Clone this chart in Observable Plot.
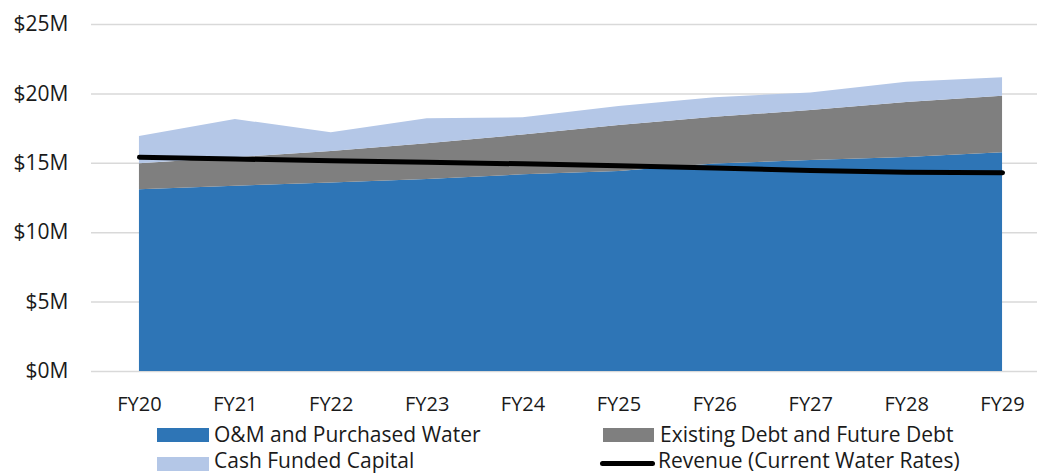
<!DOCTYPE html>
<html>
<head>
<meta charset="utf-8">
<script src="https://cdn.jsdelivr.net/npm/d3@7"></script>
<script src="https://cdn.jsdelivr.net/npm/@observablehq/plot@0.6"></script>
<style>
  body { margin: 0; background: #fff; }
  #wrap { position: relative; width: 1037px; height: 475px; font-family: "Open Sans", sans-serif; color: #1a1a1a; }
  .item { position: absolute; font-size: 21px; line-height: 21px; white-space: nowrap; }
  .sw { position: absolute; height: 14px; }
  .ln { position: absolute; height: 5px; border-radius: 3px; background: #000; }
  svg [aria-label="y-axis tick label"] { font-size: 21px; }
</style>
</head>
<body>
<div id="wrap"></div>
<script>
// Fiscal years on the category axis
const years = ["FY20", "FY21", "FY22", "FY23", "FY24", "FY25", "FY26", "FY27", "FY28", "FY29"];

// Revenue requirement components, $ millions
const omPurchasedWater = [13.09, 13.35, 13.58, 13.83, 14.17, 14.41, 14.95, 15.20, 15.42, 15.76];
const debtService      = [1.87, 2.05, 2.27, 2.57, 2.87, 3.31, 3.37, 3.60, 3.96, 4.07];
const cashCapital      = [1.97, 2.76, 1.35, 1.81, 1.24, 1.37, 1.41, 1.26, 1.46, 1.33];

// Revenue at current water rates, $ millions
const revenue = [15.44, 15.31, 15.18, 15.08, 14.96, 14.82, 14.66, 14.48, 14.36, 14.32];

const yTicks = [0, 5, 10, 15, 20, 25];

const seriesNames = ["O&M and Purchased Water", "Existing Debt and Future Debt", "Cash Funded Capital"];
const seriesColors = ["#2E75B6", "#7F7F7F", "#B4C7E7"];
const seriesValues = [omPurchasedWater, debtService, cashCapital];

const stacked = seriesNames.flatMap((name, i) =>
  years.map((year, j) => ({year, series: name, value: seriesValues[i][j]}))
);
const revenueRows = years.map((year, j) => ({year, value: revenue[j]}));

const chart = Plot.plot({
  width: 1037,
  height: 420,
  marginTop: 24,
  marginBottom: 49,
  marginLeft: 91,
  marginRight: 0,
  style: {fontFamily: "Open Sans, sans-serif", fontSize: "20px", color: "#1a1a1a", background: "#fff"},
  x: {type: "point", domain: years, range: [91, 1050], round: false, label: null, tickSize: 0, tickPadding: 25},
  y: {domain: [0, 25], ticks: yTicks, tickFormat: d => `$${d}M`, label: null, tickSize: 0, tickPadding: 23},
  color: {domain: seriesNames, range: seriesColors},
  marks: [
    Plot.gridY(yTicks, {stroke: "#D9D9D9", strokeOpacity: 1, strokeWidth: 1.5}),
    Plot.areaY(stacked, {x: "year", y: "value", fill: "series", order: seriesNames}),
    Plot.lineY(revenueRows, {x: "year", y: "value", stroke: "#000", strokeWidth: 5, strokeLinecap: "round"})
  ]
});

const wrap = document.getElementById("wrap");
wrap.appendChild(chart);

// Legend below the chart: two rows of two entries
const legend = [
  {label: seriesNames[0], kind: "sw", color: seriesColors[0], x: 157, y: 428, w: 52, tx: 214, ty: 424},
  {label: seriesNames[1], kind: "sw", color: seriesColors[1], x: 603, y: 428, w: 51, tx: 660, ty: 424},
  {label: seriesNames[2], kind: "sw", color: seriesColors[2], x: 157, y: 457, w: 52, tx: 214, ty: 450},
  {label: "Revenue (Current Water Rates)", kind: "ln", color: "#000", x: 600, y: 461, w: 55, tx: 658, ty: 450}
];
for (const d of legend) {
  const s = document.createElement("div");
  s.className = d.kind;
  s.style.left = d.x + "px";
  s.style.top = d.y + "px";
  s.style.width = d.w + "px";
  s.style.background = d.color;
  wrap.appendChild(s);
  const t = document.createElement("div");
  t.className = "item";
  t.textContent = d.label;
  t.style.left = d.tx + "px";
  t.style.top = d.ty + "px";
  wrap.appendChild(t);
}
</script>
</body>
</html>
